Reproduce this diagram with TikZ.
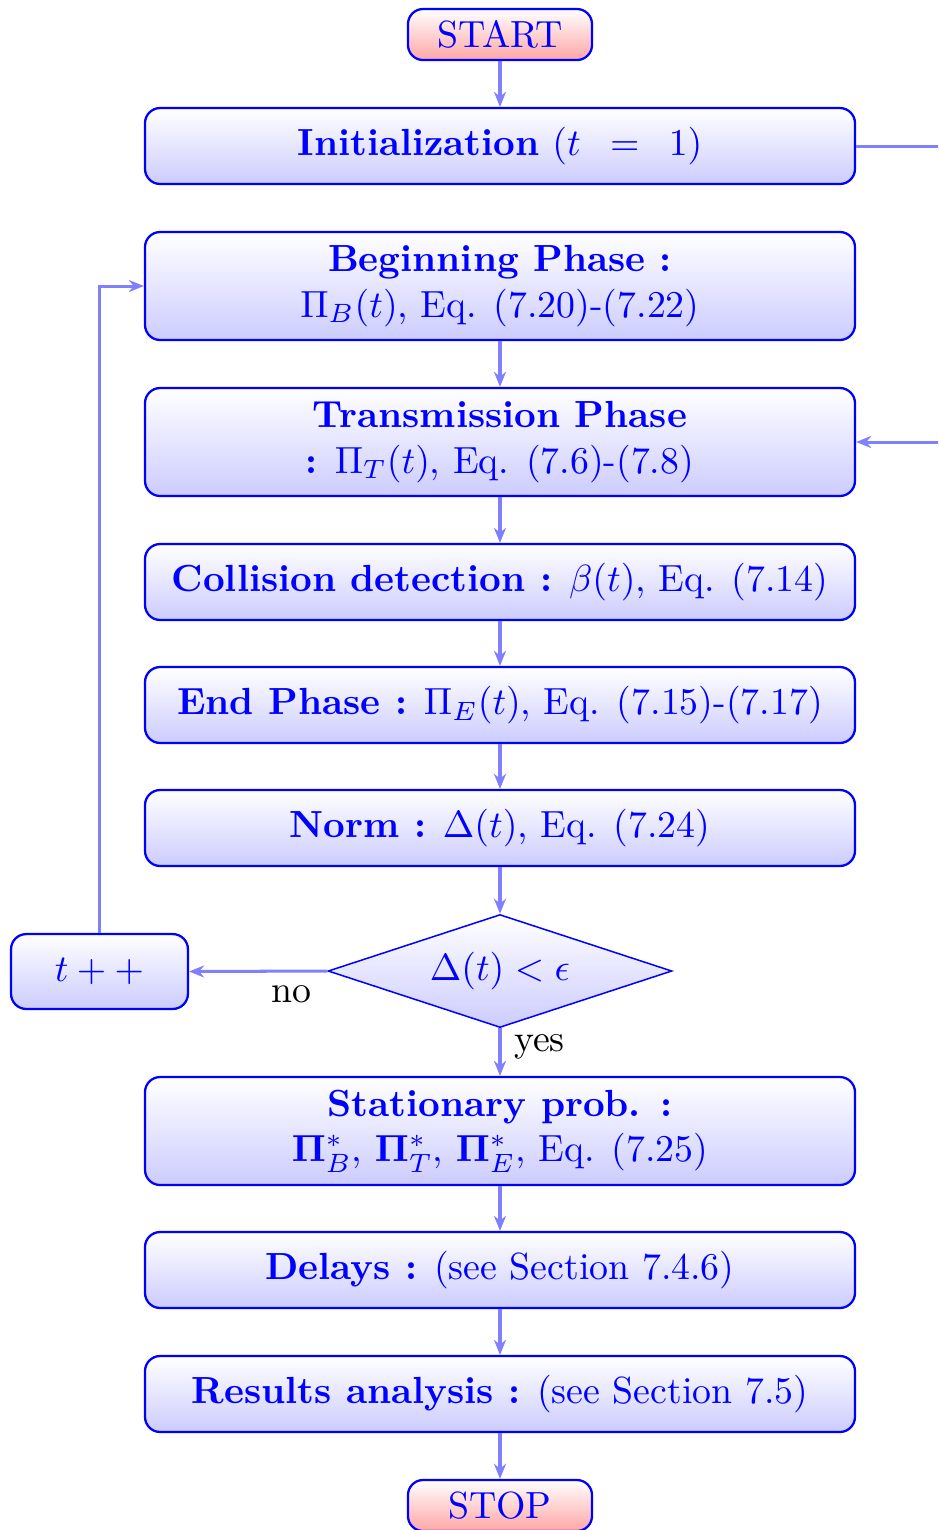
\documentclass[tikz,border=0pt]{standalone}
\usetikzlibrary{shapes.geometric,arrows.meta}
\begin{document}
\begin{tikzpicture}[x=0.26458pt,y=-0.26458pt,
 box/.style={draw=blue, semithick, rounded corners=4pt, top color=white, bottom color=blue!20, text=blue, minimum width=187.85pt, minimum height=20.1pt, align=center, inner sep=2pt},
 tallbox/.style={box, minimum height=28.57pt},
 term/.style={draw=blue, semithick, rounded corners=4pt, top color=white, bottom color=red!35, text=blue, minimum width=48.7pt, minimum height=13.5pt, inner sep=1pt},
 decision/.style={diamond, draw=blue, top color=white, bottom color=blue!20, text=blue, aspect=3, inner sep=0pt, minimum width=91pt, minimum height=29.9pt},
 smallbox/.style={draw=blue, semithick, rounded corners=4pt, top color=white, bottom color=blue!20, text=blue, minimum width=46.8pt, minimum height=19.8pt, inner sep=1pt},
 flow/.style={draw=blue!50, thick, -{Stealth[length=4pt,width=3.2pt]}},
 flowline/.style={draw=blue!50, thick},
 lbl/.style={text=black}]
\clip (0,0) rectangle (938,1530);
\node[term] (start) at (500,34.5) {START};
\node[box] (init) at (500,146) {\textbf{Initialization} $(t\hspace{5pt}=\hspace{5pt}1)$};
\node[tallbox] (begin) at (500,286) {\textbf{Beginning Phase :}\\ $\Pi_B(t)$, Eq. (7.20)-(7.22)};
\node[tallbox] (trans) at (500,442) {\textbf{Transmission Phase}\\ \textbf{:} $\Pi_T(t)$, Eq. (7.6)-(7.8)};
\node[box] (coll) at (500,582) {\textbf{Collision detection :} $\beta(t)$, Eq. (7.14)};
\node[box] (endp) at (500,705) {\textbf{End Phase :} $\Pi_E(t)$, Eq. (7.15)-(7.17)};
\node[box] (norm) at (500,828) {\textbf{Norm :} $\Delta(t)$, Eq. (7.24)};
\node[decision] (dec) at (500,971) {$\Delta(t) < \epsilon$};
\node[smallbox] (tpp) at (99.5,971.5) {$t++$};
\node[tallbox] (stat) at (500,1131) {\textbf{Stationary prob. :}\\ $\mathbf{\Pi}^*_B$, $\mathbf{\Pi}^*_T$, $\mathbf{\Pi}^*_E$, Eq. (7.25)};
\node[box] (delay) at (500,1270) {\textbf{Delays :} (see Section 7.4.6)};
\node[box] (res) at (500,1394) {\textbf{Results analysis :} (see Section 7.5)};
\node[term] (stop) at (500,1505.5) {STOP};
\draw[flow] (start) -- (init);
\draw[flow] (init.east) -- (1000,146) |- (trans.east);
\draw[flow] (begin) -- (trans);
\draw[flow] (trans) -- (coll);
\draw[flow] (coll) -- (endp);
\draw[flow] (endp) -- (norm);
\draw[flow] (norm) -- (dec);
\draw[flow] (dec.west) -- node[lbl, below, pos=0.26] {no} (tpp.east);
\draw[flow] (tpp.north) |- (begin.west);
\draw[flow] (dec.south) -- node[lbl, right, pos=0.4] {yes} (stat.north);
\draw[flow] (stat) -- (delay);
\draw[flow] (delay) -- (res);
\draw[flow] (res) -- (stop);
\end{tikzpicture}
\end{document}
